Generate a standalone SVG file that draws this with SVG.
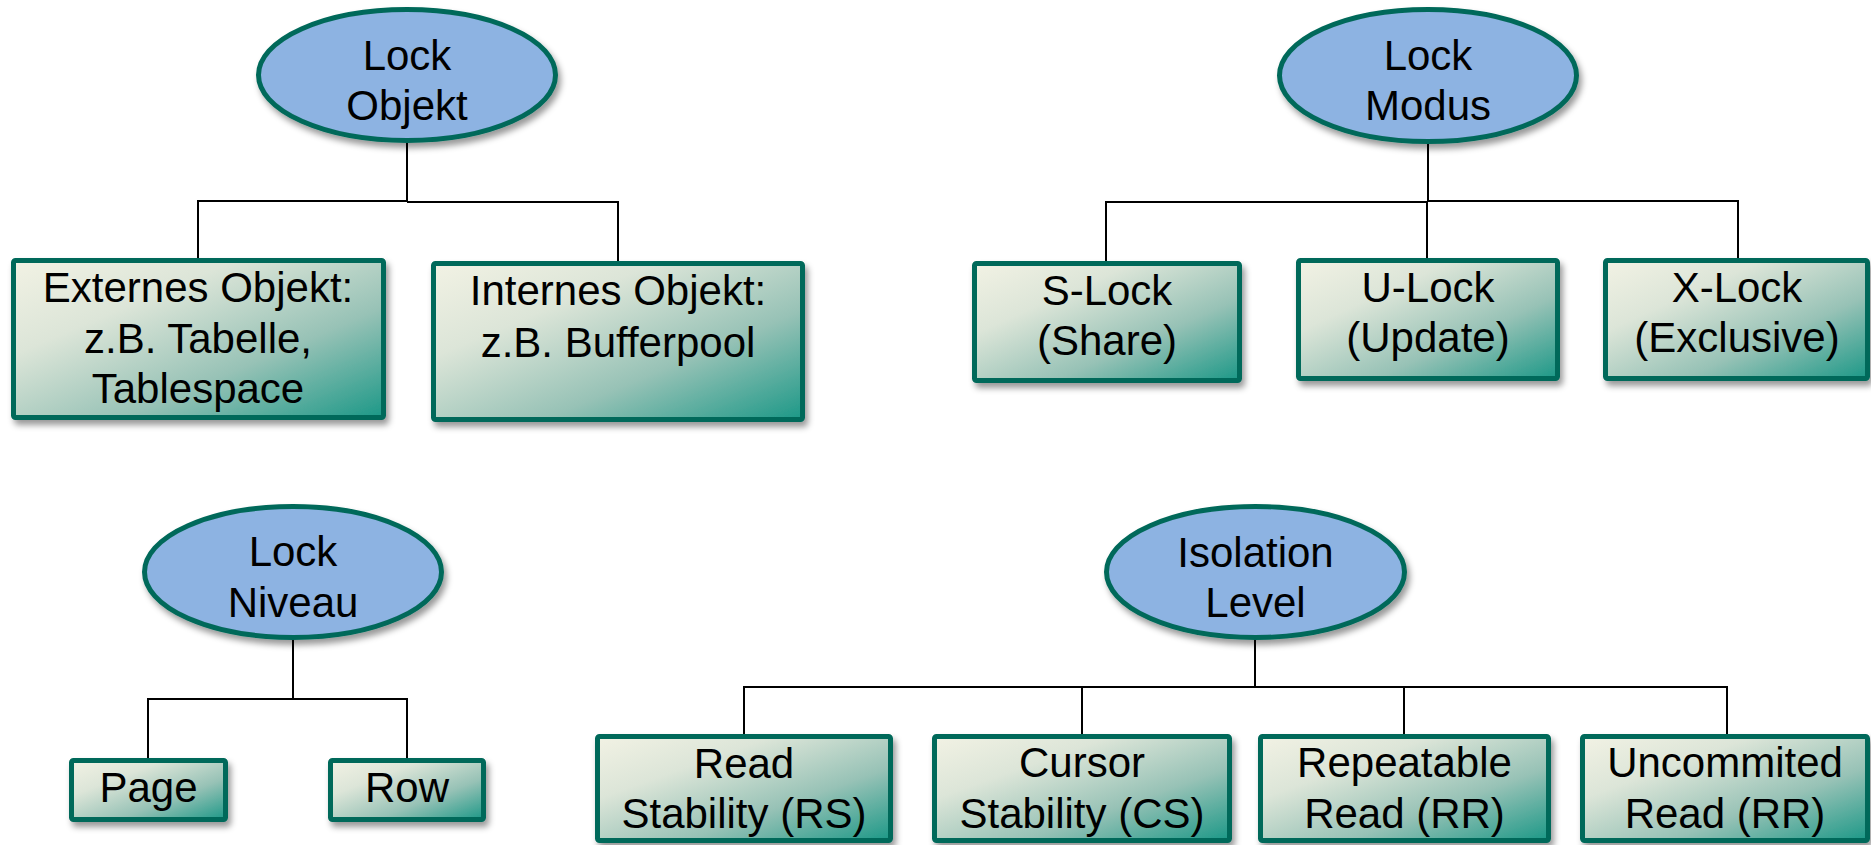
<svg xmlns="http://www.w3.org/2000/svg" width="1871" height="845" viewBox="0 0 1871 845">
<defs>
<linearGradient id="boxGrad" x1="0" y1="0" x2="1" y2="1">
<stop offset="0" stop-color="#F2F2E4"/>
<stop offset="0.3" stop-color="#DCE5D8"/>
<stop offset="0.65" stop-color="#97C2B6"/>
<stop offset="1" stop-color="#1C9887"/>
</linearGradient>
<filter id="shadow" x="-10%" y="-10%" width="125%" height="135%">
<feDropShadow dx="3" dy="5" stdDeviation="3" flood-color="#000" flood-opacity="0.4"/>
</filter>
</defs>
<style>
.ell{fill:#8DB3E2;stroke:#05695A;stroke-width:5;filter:url(#shadow)}
.box{fill:url(#boxGrad);stroke:#05695A;stroke-width:5;filter:url(#shadow)}
.t{font-family:"Liberation Sans",Arial,sans-serif;font-size:42px;fill:#000;text-anchor:middle}
.con{fill:none;stroke:#000;stroke-width:2}
</style>
<rect width="1871" height="845" fill="#fff"/>
<g id="connectors">
<path class="con" d="M407 143 V201 M198 260 V201 H407 M407 202 H618 V261"/>
<path class="con" d="M1428 144 V202 M1106 261 V202 H1428 M1428 201 H1738 V258 M1427 202 V258"/>
<path class="con" d="M293 640 V699 M148 758 V699 H407 V758"/>
<path class="con" d="M1255 640 V687 M744 734 V687 H1727 V734 M1082 687 V734 M1404 687 V734"/>
</g>
<g id="lock-objekt">
<ellipse class="ell" cx="407" cy="75" rx="148.5" ry="65.5"/>
<text class="t" x="407" y="70">Lock</text>
<text class="t" x="407" y="120">Objekt</text>
</g>
<g id="externes">
<rect class="box" x="13.5" y="260.5" width="370" height="157" rx="2"/>
<text class="t" x="198" y="302">Externes Objekt:</text>
<text class="t" x="198" y="353">z.B. Tabelle,</text>
<text class="t" x="198" y="403">Tablespace</text>
</g>
<g id="internes">
<rect class="box" x="433.5" y="263.5" width="369" height="156" rx="2"/>
<text class="t" x="618" y="305">Internes Objekt:</text>
<text class="t" x="618" y="357">z.B. Bufferpool</text>
</g>
<g id="lock-modus">
<ellipse class="ell" cx="1428" cy="75.5" rx="148.5" ry="66"/>
<text class="t" x="1428" y="70">Lock</text>
<text class="t" x="1428" y="120">Modus</text>
</g>
<g id="s-lock">
<rect class="box" x="974.5" y="263.5" width="265" height="117" rx="2"/>
<text class="t" x="1107" y="305">S-Lock</text>
<text class="t" x="1107" y="355">(Share)</text>
</g>
<g id="u-lock">
<rect class="box" x="1298.5" y="260.5" width="259" height="118" rx="2"/>
<text class="t" x="1428" y="302">U-Lock</text>
<text class="t" x="1428" y="352">(Update)</text>
</g>
<g id="x-lock">
<rect class="box" x="1605.5" y="260.5" width="262" height="118" rx="2"/>
<text class="t" x="1737" y="302">X-Lock</text>
<text class="t" x="1737" y="352">(Exclusive)</text>
</g>
<g id="lock-niveau">
<ellipse class="ell" cx="293" cy="572" rx="148.5" ry="65.5"/>
<text class="t" x="293" y="566">Lock</text>
<text class="t" x="293" y="617">Niveau</text>
</g>
<g id="page">
<rect class="box" x="71.5" y="760.5" width="154" height="59" rx="2"/>
<text class="t" x="148.5" y="802">Page</text>
</g>
<g id="row">
<rect class="box" x="330.5" y="760.5" width="153" height="59" rx="2"/>
<text class="t" x="407" y="802">Row</text>
</g>
<g id="isolation-level">
<ellipse class="ell" cx="1255.5" cy="572" rx="149" ry="65.5"/>
<text class="t" x="1255.5" y="567">Isolation</text>
<text class="t" x="1255.5" y="617">Level</text>
</g>
<g id="rs">
<rect class="box" x="597.5" y="736.5" width="293" height="104" rx="2"/>
<text class="t" x="744" y="778">Read</text>
<text class="t" x="744" y="828">Stability (RS)</text>
</g>
<g id="cs">
<rect class="box" x="934.5" y="736.5" width="295" height="104" rx="2"/>
<text class="t" x="1082" y="777">Cursor</text>
<text class="t" x="1082" y="828">Stability (CS)</text>
</g>
<g id="rr">
<rect class="box" x="1260.5" y="736.5" width="288" height="104" rx="2"/>
<text class="t" x="1404.5" y="777">Repeatable</text>
<text class="t" x="1404.5" y="828">Read (RR)</text>
</g>
<g id="ur">
<rect class="box" x="1582.5" y="736.5" width="285" height="104" rx="2"/>
<text class="t" x="1725" y="777">Uncommited</text>
<text class="t" x="1725" y="828">Read (RR)</text>
</g>
</svg>
